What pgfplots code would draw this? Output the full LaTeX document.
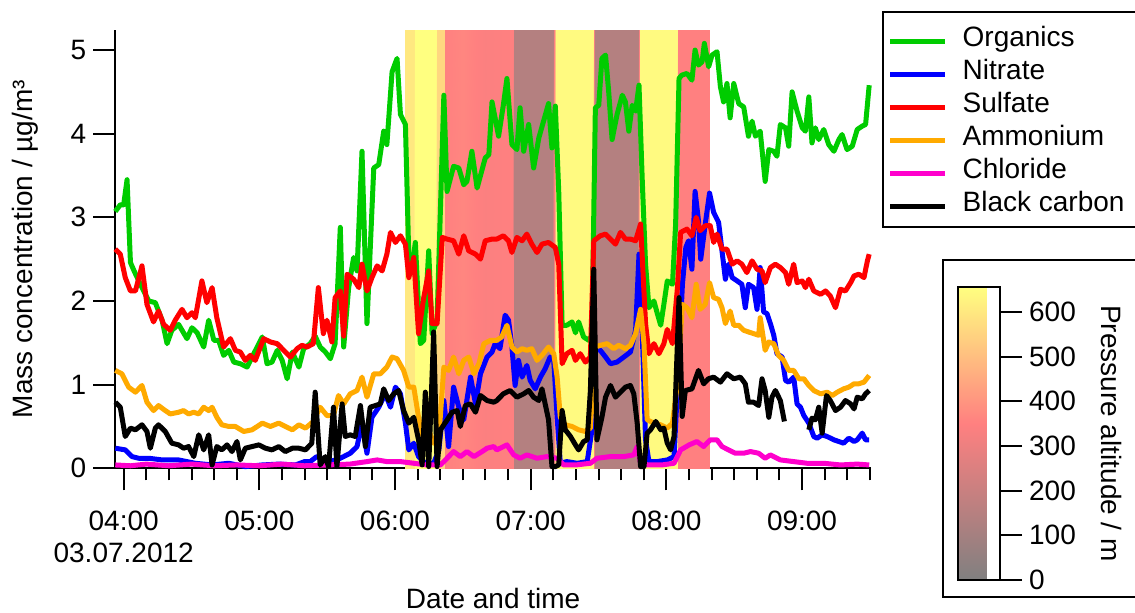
\documentclass[border=0pt]{standalone}
\usepackage{fontspec}
\setmainfont{Liberation Sans}
\usepackage{pgfplots}
\usepackage{pgfplotstable}
\pgfplotsset{compat=1.18}
\pgfkeys{/pgf/number format/assume math mode=true}

\definecolor{org}{RGB}{0,204,0}
\definecolor{nit}{RGB}{0,0,255}
\definecolor{sul}{RGB}{255,0,0}
\definecolor{amm}{RGB}{255,170,0}
\definecolor{chl}{RGB}{255,0,204}
\newcommand\fs{\fontsize{14}{16.5}\selectfont}

% time in minutes after 04:00 (03.07.2012), concentration in ug/m3
\pgfplotstableread{
t c
-3.7 3.07
-1.5 3.15
0.0 3.15
1.5 3.45
3.0 2.46
4.6 2.36
8.1 2.16
11.1 2.00
14.0 1.98
17.0 1.77
19.2 1.49
21.3 1.65
24.3 1.72
28.0 1.55
30.2 1.68
32.5 1.62
35.4 1.45
37.6 1.77
39.9 1.53
42.0 1.53
44.2 1.35
46.5 1.41
48.7 1.27
51.6 1.25
54.6 1.21
56.8 1.33
61.3 1.57
63.4 1.25
65.6 1.27
67.9 1.41
70.1 1.29
72.3 1.07
74.6 1.39
77.5 1.21
79.6 1.43
82.5 1.49
84.7 1.58
86.9 1.45
89.2 1.39
91.4 1.31
93.5 1.49
95.8 2.88
97.3 1.45
99.5 2.16
101.7 2.52
103.2 2.36
105.4 3.79
107.6 1.73
110.6 3.59
112.8 3.63
115.0 4.03
116.4 3.87
118.7 4.74
120.9 4.90
122.4 4.23
124.6 4.11
126.1 2.52
127.5 2.40
129.0 2.70
131.2 1.49
132.7 1.53
134.9 2.60
136.4 1.61
138.6 1.77
141.6 4.46
143.0 3.31
145.9 3.61
148.2 3.59
150.4 3.39
151.8 3.43
154.0 3.79
156.3 3.35
159.9 3.71
161.5 3.75
162.9 4.38
165.8 3.97
167.9 4.34
169.5 4.66
171.7 3.87
173.9 3.81
175.3 4.31
176.9 3.79
179.1 4.11
181.3 3.59
183.6 3.95
185.7 4.15
187.9 4.36
189.4 3.83
190.9 4.33
192.4 3.31
193.9 1.71
196.0 1.71
198.3 1.75
199.8 1.62
201.2 1.75
203.4 1.57
205.7 1.53
207.1 1.59
208.6 4.31
210.1 4.34
211.5 4.90
213.1 4.94
214.5 4.50
216.0 3.93
218.2 4.23
220.5 4.46
221.9 4.38
223.4 4.03
224.9 4.34
226.4 4.27
227.9 4.58
229.3 3.47
230.8 2.44
232.3 1.92
234.5 2.00
236.0 1.85
237.5 1.71
238.9 1.96
240.4 2.24
242.7 2.20
244.1 2.92
245.6 4.66
246.8 4.70
249.1 4.72
251.3 4.64
252.7 5.00
254.2 4.82
255.8 4.86
256.8 5.08
258.7 4.80
260.2 4.94
262.4 4.98
263.9 4.56
265.3 4.38
266.8 4.60
268.2 4.19
269.8 4.60
272.0 4.36
274.2 4.32
276.3 3.97
277.9 4.15
279.4 3.97
281.5 4.03
283.7 3.43
285.3 3.81
287.5 3.79
288.9 3.73
290.4 4.11
292.7 4.07
294.1 3.85
295.6 4.50
297.8 4.27
300.1 4.07
301.5 4.03
303.0 4.44
304.4 3.89
305.9 4.07
307.4 3.93
309.6 4.05
311.8 3.87
314.1 3.79
316.3 3.93
317.7 3.99
319.9 3.81
322.2 3.85
324.4 4.05
326.6 4.09
328.1 4.11
329.7 4.58
}\organics

\pgfplotstableread{
t c
-3.7 0.24
0.7 0.22
3.7 0.14
6.6 0.12
11.1 0.12
17.0 0.10
24.3 0.10
31.7 0.06
39.1 0.04
46.5 0.06
53.8 0.02
61.3 0.04
68.6 0.05
76.0 0.04
80.0 0.08
82.5 0.08
85.4 0.14
89.9 0.08
94.3 0.10
97.3 0.14
100.2 0.18
103.2 0.26
105.4 0.54
107.6 0.18
109.8 0.61
112.8 0.73
115.7 0.89
118.0 0.73
120.2 0.97
122.4 0.89
124.6 0.54
126.1 0.22
128.3 0.30
130.4 0.14
133.4 0.06
137.1 0.06
139.4 0.22
141.6 0.81
143.7 0.26
145.9 0.97
148.2 0.73
150.4 0.58
153.4 1.09
155.6 0.77
157.8 1.13
160.7 1.33
162.9 1.39
164.3 1.49
166.4 1.43
168.7 1.83
170.2 1.77
171.7 1.45
173.1 0.99
174.6 1.29
176.2 1.09
178.3 1.23
179.8 1.05
182.0 0.95
184.3 1.09
186.4 1.19
188.6 1.33
190.2 1.29
191.7 0.61
193.1 0.06
196.0 0.08
200.5 0.06
205.0 0.08
207.1 0.46
208.6 1.43
210.8 1.41
213.1 1.33
215.3 1.25
218.2 1.27
221.2 1.33
224.1 1.39
226.4 1.65
227.9 2.56
229.3 1.65
230.8 0.34
232.3 0.08
236.0 0.08
240.4 0.10
243.4 0.14
245.6 1.33
247.1 2.20
248.6 2.64
249.8 2.72
251.3 2.38
252.7 3.31
254.2 2.96
255.2 2.50
257.2 2.92
259.1 3.29
260.9 3.06
263.1 2.94
264.6 2.60
266.1 2.26
267.5 2.44
269.1 2.28
271.3 2.24
273.4 2.20
274.9 1.92
276.3 2.20
278.6 2.16
280.1 1.90
281.5 2.40
283.0 1.87
284.5 1.85
286.0 1.73
287.5 1.59
288.9 1.37
291.2 1.33
292.7 1.05
294.1 1.03
296.3 1.09
297.8 0.77
299.3 0.73
300.8 0.63
303.0 0.54
305.2 0.38
306.7 0.36
308.9 0.40
311.1 0.38
314.1 0.34
316.3 0.32
318.4 0.30
320.7 0.36
323.0 0.32
324.4 0.34
326.6 0.42
328.1 0.34
329.7 0.34
}\nitrate

\pgfplotstableread{
t c
-3.7 2.62
-1.5 2.56
0.7 2.28
3.0 2.12
5.2 2.12
8.1 2.42
10.3 1.96
13.2 1.75
15.4 1.88
17.7 1.72
20.6 1.65
22.8 1.77
25.8 1.90
28.0 1.80
30.2 1.86
31.7 1.80
34.6 2.24
36.8 1.98
39.1 2.16
41.2 1.80
44.2 1.45
47.2 1.55
49.4 1.41
51.6 1.39
53.8 1.29
56.0 1.35
58.2 1.29
61.9 1.55
64.9 1.51
67.9 1.49
70.8 1.41
73.8 1.33
76.7 1.43
78.9 1.47
81.1 1.45
83.9 1.49
86.1 2.16
88.3 1.61
89.9 1.77
92.1 1.51
93.5 2.04
95.8 2.12
97.3 1.58
98.8 2.32
101.7 2.26
104.0 2.16
105.4 2.44
107.6 2.12
109.8 2.28
112.1 2.42
114.3 2.36
116.4 2.56
118.0 2.82
120.2 2.70
122.4 2.78
124.6 2.68
126.1 2.28
128.3 2.52
130.4 1.61
132.7 2.04
134.9 2.36
136.4 1.73
138.6 1.73
140.9 2.76
143.0 2.74
145.9 2.72
148.2 2.56
150.4 2.78
152.6 2.60
155.6 2.56
157.8 2.50
159.9 2.72
162.9 2.74
165.0 2.74
167.9 2.78
170.2 2.72
171.7 2.58
173.9 2.76
176.2 2.72
178.3 2.80
180.5 2.68
182.8 2.58
185.0 2.68
187.9 2.70
190.9 2.64
192.4 2.44
193.9 1.25
196.0 1.37
198.3 1.41
199.8 1.29
201.9 1.37
204.2 1.27
206.4 1.33
207.9 2.72
210.8 2.78
213.1 2.80
215.3 2.74
217.5 2.68
219.7 2.82
221.9 2.74
224.1 2.74
226.4 2.72
228.6 2.92
230.8 1.73
232.3 1.37
234.5 1.49
236.7 1.37
238.9 1.49
240.4 1.66
242.7 1.49
244.9 2.16
246.3 2.82
249.1 2.86
251.3 2.78
253.2 3.00
254.9 2.84
257.2 2.90
259.4 2.90
260.9 2.70
262.4 2.80
264.6 2.62
266.8 2.62
269.1 2.44
271.3 2.48
273.4 2.44
275.6 2.34
277.9 2.48
280.1 2.38
282.3 2.36
283.7 2.22
286.0 2.40
288.2 2.44
290.4 2.40
292.7 2.34
294.1 2.20
296.3 2.44
297.8 2.22
300.1 2.24
301.5 2.16
303.0 2.26
305.2 2.12
308.2 2.08
310.4 2.12
312.5 2.06
314.8 1.92
317.0 2.14
319.2 2.12
321.5 2.22
323.0 2.30
325.1 2.32
327.4 2.28
328.9 2.48
329.7 2.56
}\sulfate

\pgfplotstableread{
t c
-3.7 1.17
-0.8 1.13
2.2 0.97
5.2 0.91
8.1 0.99
10.3 0.79
13.2 0.69
15.4 0.75
18.4 0.69
20.6 0.65
24.3 0.67
26.5 0.69
28.7 0.65
31.0 0.67
33.2 0.65
35.4 0.73
37.6 0.69
39.1 0.73
41.2 0.61
43.4 0.52
46.5 0.50
49.4 0.50
53.1 0.44
56.8 0.46
61.3 0.54
64.9 0.50
68.6 0.54
71.5 0.50
74.6 0.46
77.5 0.52
80.4 0.48
83.9 0.56
86.9 0.73
89.9 0.63
92.8 0.63
95.0 0.87
97.3 0.77
100.2 0.89
103.2 0.93
105.4 1.09
107.6 0.85
110.6 1.13
113.5 1.13
116.4 1.21
118.7 1.33
120.9 1.31
123.8 1.17
126.1 0.97
128.3 0.97
130.4 0.61
132.7 0.34
134.9 0.46
137.1 0.30
139.4 0.38
141.6 1.21
143.7 1.17
145.9 1.33
148.2 1.13
150.4 1.29
152.6 1.33
154.9 1.13
157.1 1.25
159.3 1.49
162.3 1.53
165.0 1.53
167.2 1.57
169.5 1.71
171.7 1.45
173.9 1.39
176.2 1.43
178.3 1.41
180.5 1.43
182.8 1.29
185.0 1.35
187.9 1.45
190.2 1.37
191.7 1.09
193.1 0.61
195.3 0.52
198.3 0.50
201.2 0.46
204.2 0.44
206.4 0.48
208.6 1.45
210.8 1.47
213.8 1.49
216.7 1.43
218.9 1.47
221.9 1.43
224.1 1.47
226.4 1.61
228.6 1.90
230.1 1.49
231.5 0.58
234.5 0.54
237.5 0.52
240.4 0.48
242.7 0.54
244.9 1.01
247.1 1.96
249.1 1.92
251.3 1.80
253.2 2.20
254.9 1.90
257.2 1.96
259.1 2.22
260.9 2.04
263.1 2.02
264.6 1.92
266.1 1.73
268.2 1.88
269.8 1.71
272.0 1.71
274.2 1.65
276.3 1.63
278.6 1.61
280.8 1.59
281.5 1.80
283.7 1.41
285.3 1.51
287.5 1.49
289.6 1.35
291.9 1.29
294.1 1.17
296.3 1.17
298.6 1.07
300.8 1.07
303.0 0.99
305.2 0.93
308.2 0.89
311.1 0.91
313.4 0.87
315.6 0.91
318.4 0.95
320.7 0.97
323.0 1.01
325.1 1.01
327.4 1.03
329.7 1.11
}\ammonium

\pgfplotstableread{
t c
-3.7 0.04
3.0 0.03
10.0 0.05
20.0 0.03
30.0 0.05
40.0 0.03
50.0 0.04
60.0 0.03
70.0 0.05
80.0 0.03
90.0 0.04
100.0 0.05
107.6 0.08
112.1 0.10
116.4 0.08
122.4 0.08
128.3 0.06
134.2 0.04
140.1 0.04
143.0 0.12
145.9 0.20
148.9 0.14
151.8 0.20
154.9 0.14
158.5 0.20
160.7 0.24
163.7 0.26
165.0 0.22
169.5 0.28
172.5 0.16
175.3 0.12
178.3 0.16
182.8 0.12
187.2 0.14
191.7 0.12
194.6 0.04
200.0 0.04
206.4 0.06
209.3 0.12
215.3 0.14
221.2 0.14
225.6 0.16
227.1 0.26
228.6 0.06
232.0 0.04
238.0 0.04
243.4 0.06
246.3 0.22
250.1 0.28
253.5 0.32
256.5 0.26
259.4 0.34
262.4 0.34
264.6 0.26
267.5 0.22
270.5 0.18
274.2 0.18
277.2 0.20
280.8 0.18
283.7 0.12
286.0 0.16
290.4 0.10
296.3 0.08
302.2 0.06
309.6 0.06
317.0 0.04
324.4 0.05
329.7 0.04
}\chloride

\pgfplotstableread{
t c
-3.7 0.79
-1.5 0.73
0.7 0.38
3.0 0.48
5.2 0.46
8.1 0.52
10.3 0.44
11.8 0.24
14.0 0.48
15.4 0.52
18.4 0.44
21.3 0.30
24.3 0.28
26.5 0.24
28.7 0.26
31.0 0.14
33.2 0.40
35.4 0.22
37.6 0.40
39.1 0.04
41.2 0.26
43.4 0.22
45.7 0.28
47.9 0.20
50.1 0.32
51.6 0.10
53.8 0.24
56.8 0.26
59.8 0.28
62.7 0.24
65.6 0.22
68.6 0.26
71.5 0.20
74.6 0.24
77.5 0.24
80.4 0.22
83.2 0.30
84.7 0.91
86.9 0.04
89.2 0.14
90.6 0.02
92.8 0.73
94.3 0.02
96.6 0.77
98.0 0.38
100.2 0.40
102.4 0.38
104.7 0.75
106.9 0.26
109.0 0.73
111.3 0.75
113.5 0.77
115.0 0.95
117.2 0.81
119.4 0.89
121.6 0.93
123.8 0.69
126.1 0.54
128.3 0.61
130.4 0.34
132.0 0.04
133.4 0.91
134.9 0.02
137.1 1.63
138.6 0.02
140.1 0.46
143.1 0.58
145.2 0.67
147.5 0.69
148.9 0.50
151.1 0.75
153.3 0.77
155.6 0.67
157.8 0.87
160.7 0.81
163.7 0.79
165.0 0.81
167.9 0.89
170.9 0.93
173.9 0.85
176.9 0.89
179.1 0.93
181.3 0.85
183.6 0.81
185.0 0.95
186.4 0.77
187.9 0.58
189.4 0.02
190.9 0.02
192.4 0.04
193.9 0.69
195.3 0.46
197.6 0.38
199.8 0.28
201.2 0.22
203.4 0.32
205.0 0.34
206.4 0.93
207.9 2.38
209.3 0.34
211.5 0.61
213.1 0.85
215.3 0.99
217.5 0.85
219.7 0.91
221.9 0.97
224.1 0.99
225.6 0.89
227.1 0.54
228.6 0.02
230.1 0.02
231.5 0.42
233.0 0.46
235.3 0.56
237.5 0.46
238.9 0.48
240.4 0.30
241.9 0.22
243.4 0.38
245.6 2.04
247.0 0.62
248.4 0.93
251.3 0.95
254.2 1.17
256.5 1.01
258.6 1.07
260.9 1.09
263.9 1.03
266.8 1.13
269.8 1.07
272.7 1.09
274.9 1.01
276.3 0.79
278.6 0.79
280.8 0.75
282.3 1.07
283.7 0.93
285.3 0.61
286.7 0.85
288.2 0.93
290.4 0.81
292.2 0.56
297.0 nan
303.0 0.46
304.4 0.60
305.9 0.58
307.4 0.73
308.9 0.42
310.8 0.87
312.5 0.81
314.8 0.69
317.0 0.73
319.2 0.81
321.5 0.77
323.0 0.71
324.4 0.85
326.6 0.83
328.1 0.89
329.7 0.93
}\blackcarbon

\begin{document}
\begin{tikzpicture}
\begin{axis}[
  scale only axis, width=377.85pt, height=219.15pt,
  xmin=-3.7, xmax=330.5, ymin=0, ymax=5.24,
  axis x line*=bottom, axis y line*=left,
  axis line style={-, line width=1pt},
  tick align=outside, major tick length=11pt, minor tick length=6pt,
  tick style={black, line width=1pt},
  xtick={0,60,...,300},
  xticklabels={{04:00\\03.07.2012},05:00,06:00,07:00,08:00,09:00},
  minor xtick={10,20,...,330},
  ytick={0,1,...,5},
  tick label style={font=\fs},
  xticklabel style={align=center, yshift=-7pt, font=\fontsize{14}{16}\selectfont},
  xlabel={Date and time},
  ylabel={Mass concentration / µg/m³},
  every axis x label/.style={at={(axis description cs:0.5,-0.319)}, anchor=base, font=\fs},
  every axis y label/.style={at={(axis description cs:-0.1195,0.5)}, rotate=90, anchor=center, font=\fs},
  clip=false,
  unbounded coords=jump,
  colormap={alt}{rgb255(0cm)=(128,128,128) rgb255(3.5cm)=(255,128,128) rgb255(6.56cm)=(255,255,128)},
  point meta min=0, point meta max=656,
  colorbar,
  colorbar style={
    scale only axis, width=21pt, height=146.5pt,
    at={(412.85pt,-55.85pt)}, anchor=south west,
    ytick={0,100,...,600}, ytick pos=right, yticklabel pos=right,
    tick align=outside, major tick length=11pt,
    tick style={black, line width=1pt},
    axis line style={line width=1.3pt},
    yticklabel style={font=\fs},
    ylabel={Pressure altitude / m},
    ylabel shift=6pt,
    ylabel style={font=\fs, rotate=180},
  },
  legend style={at={(1.0215,1.0128)}, anchor=north west, draw=none, fill=none,
    font=\fs, row sep=0pt, column sep=7.5pt, inner sep=0pt,
    nodes={inner sep=0pt, text height=11pt, text depth=5.5pt}},
  legend cell align=left,
  legend image code/.code={\draw[line width=2.5pt] (0pt,0pt) -- (27.5pt,0pt);},
]
% pressure altitude along the flight path, drawn as background bands
\addplot[surf, shader=interp, point meta=explicit, forget plot] table[meta=a] {
x y a
124.5 0 600
128.5 0 600
129.0 0 656
138.0 0 656
138.6 0 560
141.9 0 560
142.3 0 350
150.0 0 365
160.0 0 340
172.0 0 350
172.4 0 143
189.8 0 143
190.4 0 330
191.0 0 645
207.4 0 645
208.0 0 330
208.6 0 143
227.3 0 143
227.9 0 330
228.5 0 645
244.7 0 645
245.3 0 350
259.0 0 350

124.5 5.24 600
128.5 5.24 600
129.0 5.24 656
138.0 5.24 656
138.6 5.24 560
141.9 5.24 560
142.3 5.24 350
150.0 5.24 365
160.0 5.24 340
172.0 5.24 350
172.4 5.24 143
189.8 5.24 143
190.4 5.24 330
191.0 5.24 645
207.4 5.24 645
208.0 5.24 330
208.6 5.24 143
227.3 5.24 143
227.9 5.24 330
228.5 5.24 645
244.7 5.24 645
245.3 5.24 350
259.0 5.24 350
};
\addplot[org, line width=2.5pt, line join=round] table[x=t, y=c] {\organics};
\addlegendentry{Organics}
\addplot[nit, line width=2.5pt, line join=round] table[x=t, y=c] {\nitrate};
\addlegendentry{Nitrate}
\addplot[sul, line width=2.5pt, line join=round] table[x=t, y=c] {\sulfate};
\addlegendentry{Sulfate}
\addplot[amm, line width=2.5pt, line join=round] table[x=t, y=c] {\ammonium};
\addlegendentry{Ammonium}
\addplot[chl, line width=2.5pt, line join=round] table[x=t, y=c] {\chloride};
\addlegendentry{Chloride}
\addplot[black, line width=2.5pt, line join=round] table[x=t, y=c] {\blackcarbon};
\addlegendentry{Black carbon}
\end{axis}
% frames round the legend and the colour bar (cut by the right edge, as in the figure)
\draw[line width=1.3pt] (383.85pt,120.65pt) rectangle (530pt,228.15pt);
\draw[line width=1pt] (413.85pt,-64.2pt) rectangle (530pt,104.15pt);
\pgfresetboundingbox
\path[use as bounding box] (-57.65pt,-72.35pt) rectangle (509.85pt,234.15pt);
\end{tikzpicture}
\end{document}
